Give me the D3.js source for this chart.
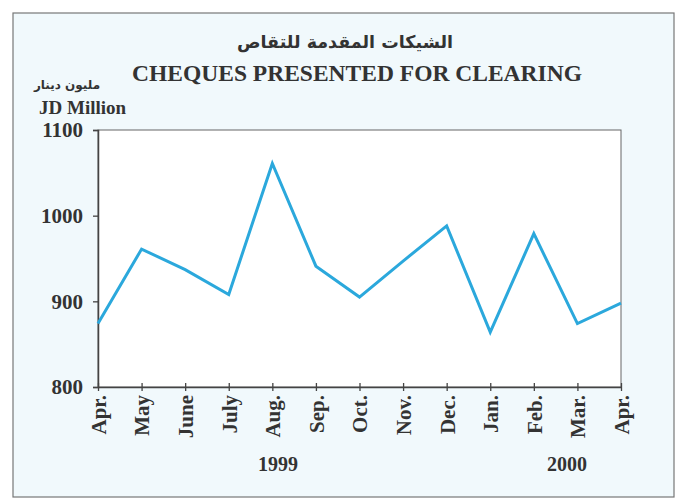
<!DOCTYPE html>
<html>
<head>
<meta charset="utf-8">
<script src="https://cdn.jsdelivr.net/npm/d3@7"></script>
<style>
  body { margin: 0; background: #ffffff; }
  svg text { font-family: "Liberation Serif", "Times New Roman", serif; font-weight: bold; fill: #333; }
</style>
</head>
<body>
<svg id="chart" width="681" height="499"></svg>
<script>
// month labels along the x axis (Apr 1999 .. Apr 2000)
const months = ["Apr.", "May", "June", "July", "Aug.", "Sep.", "Oct.", "Nov.", "Dec.", "Jan.", "Feb.", "Mar.", "Apr."];
// cheques presented for clearing, JD million
const values = [874, 961, 937, 908, 1061, 941, 905, 947, 988, 864, 979, 874, 898];
const yTicks = [800, 900, 1000, 1100];
const years = [{ label: "1999", at: 4.13 }, { label: "2000", at: 10.76 }];

const svg = d3.select("#chart");

// page background + outer frame
svg.append("rect")
  .attr("x", 13).attr("y", 13).attr("width", 661).attr("height", 484)
  .attr("fill", "#f1f9fc").attr("stroke", "#777").attr("stroke-width", 1.2);

const margin = { top: 130, left: 98 };
const width = 523, height = 257;

const g = svg.append("g")
  .attr("transform", "translate(" + margin.left + "," + margin.top + ")");

const x = d3.scalePoint().domain(d3.range(months.length)).range([0, width]);
const y = d3.scaleLinear().domain([800, 1100]).range([height, 0]);

// plot area
g.append("rect")
  .attr("width", width).attr("height", height)
  .attr("fill", "#ffffff").attr("stroke", "#666").attr("stroke-width", 1);

// Y axis
const yAxis = g.append("g")
  .call(d3.axisLeft(y).tickValues(yTicks).tickSize(5).tickPadding(10).tickFormat(d3.format("d")));
yAxis.select(".domain").attr("stroke", "#444").attr("stroke-width", 1.5);
yAxis.selectAll(".tick line").attr("stroke", "#444").attr("stroke-width", 1.3);
yAxis.selectAll("text").style("font-size", "21px").attr("fill", "#333");

// X axis
const xAxis = g.append("g")
  .attr("transform", "translate(0," + height + ")")
  .call(d3.axisBottom(x).tickSize(0).tickFormat((i) => months[i]));
xAxis.select(".domain").attr("stroke", "#444").attr("stroke-width", 1.5);
xAxis.selectAll(".tick").append("line")
  .attr("y1", -4).attr("y2", 4).attr("stroke", "#444").attr("stroke-width", 1.3);
xAxis.selectAll(".tick text")
  .style("font-size", "21px")
  .attr("fill", "#333")
  .attr("text-anchor", "end")
  .attr("transform", "rotate(-90)")
  .attr("x", -8).attr("y", 0).attr("dy", "0.35em");

// year labels
g.selectAll(".year")
  .data(years)
  .enter()
  .append("text")
  .attr("class", "year")
  .attr("x", (d) => x(0) + (x(1) - x(0)) * d.at)
  .attr("y", height + 84)
  .attr("text-anchor", "middle")
  .style("font-size", "20px")
  .text((d) => d.label);

// the line
g.append("path")
  .datum(values)
  .attr("fill", "none")
  .attr("stroke", "#2ba8dc")
  .attr("stroke-width", 3)
  .attr("stroke-linejoin", "miter")
  .attr("d", d3.line().x((d, i) => x(i)).y((d) => y(d)));

// titles
svg.append("text")
  .attr("x", 345).attr("y", 48)
  .attr("text-anchor", "middle")
  .style("font-family", "'DejaVu Sans', sans-serif")
  .style("font-size", "17.5px")
  .text("الشيكات المقدمة للتقاص");

svg.append("text")
  .attr("x", 357).attr("y", 81)
  .attr("text-anchor", "middle")
  .style("font-size", "23.5px")
  .text("CHEQUES PRESENTED FOR CLEARING");

svg.append("text")
  .attr("x", 67).attr("y", 89)
  .attr("text-anchor", "middle")
  .style("font-family", "'DejaVu Sans', sans-serif")
  .style("font-size", "12px")
  .text("مليون دينار");

svg.append("text")
  .attr("x", 39).attr("y", 114)
  .style("font-size", "19px")
  .text("JD Million");
</script>
</body>
</html>
